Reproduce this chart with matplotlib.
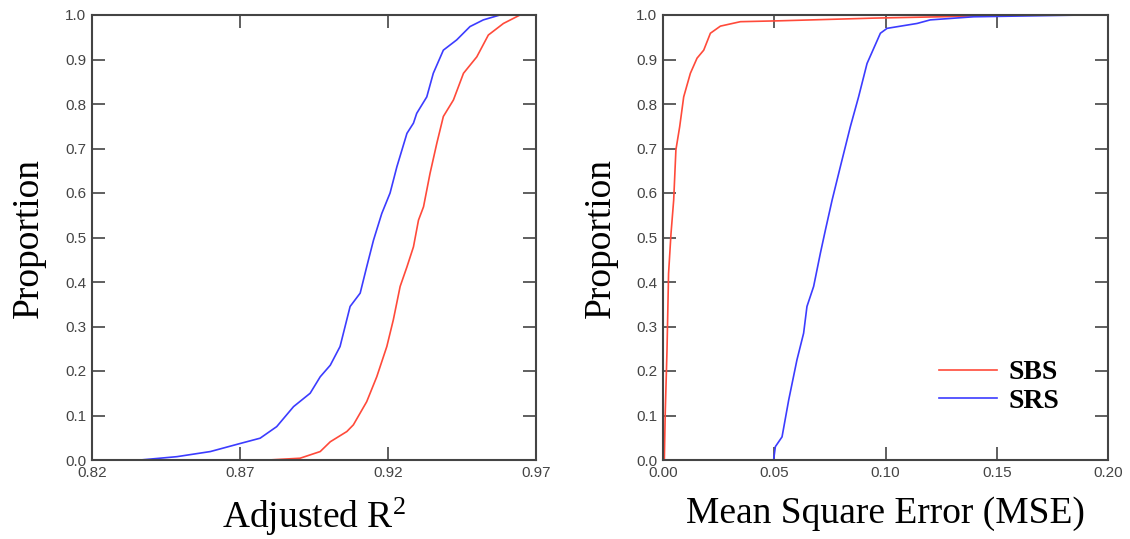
import matplotlib
matplotlib.use("Agg")
import matplotlib.pyplot as plt

plt.rcParams['mathtext.fontset'] = 'custom'
plt.rcParams['mathtext.rm'] = 'Liberation Serif'
plt.rcParams['mathtext.it'] = 'Liberation Serif:italic'
plt.rcParams['mathtext.bf'] = 'Liberation Serif:bold'

# Left panel: Adjusted R^2 cumulative proportions
r2_srs_x = [0.8363, 0.8487, 0.8600, 0.8700, 0.8768, 0.8824, 0.8881, 0.8937, 0.8971, 0.9005,
            0.9038, 0.9072, 0.9106, 0.9128, 0.9151, 0.9179, 0.9207, 0.9230, 0.9264, 0.9286,
            0.9297, 0.9331, 0.9353, 0.9387, 0.9432, 0.9477, 0.9522, 0.9578, 0.9646]
r2_srs_y = [0.000, 0.0075, 0.019, 0.037, 0.049, 0.075, 0.120, 0.150, 0.187, 0.213,
            0.255, 0.345, 0.375, 0.434, 0.494, 0.554, 0.600, 0.659, 0.734, 0.757,
            0.779, 0.816, 0.869, 0.921, 0.944, 0.974, 0.989, 1.000, 1.000]
r2_sbs_x = [0.8796, 0.8903, 0.8971, 0.9005, 0.9061, 0.9083, 0.9128, 0.9162, 0.9196, 0.9218,
            0.9241, 0.9264, 0.9286, 0.9303, 0.9320, 0.9342, 0.9365, 0.9387, 0.9421, 0.9455,
            0.9500, 0.9539, 0.9590, 0.9646]
r2_sbs_y = [0.000, 0.004, 0.019, 0.041, 0.064, 0.079, 0.131, 0.187, 0.255, 0.315,
            0.390, 0.434, 0.479, 0.539, 0.569, 0.644, 0.712, 0.772, 0.809, 0.869,
            0.906, 0.955, 0.981, 1.000]

# Right panel: MSE cumulative proportions
mse_sbs_x = [0.0006, 0.0010, 0.0018, 0.0025, 0.0036, 0.0048, 0.0058, 0.0075, 0.0093, 0.0123,
             0.0153, 0.0183, 0.0213, 0.0258, 0.0348, 0.0527, 0.0947, 0.1246, 0.1546, 0.1830]
mse_sbs_y = [0.000, 0.105, 0.247, 0.419, 0.509, 0.584, 0.697, 0.749, 0.816, 0.869,
             0.903, 0.921, 0.959, 0.975, 0.985, 0.987, 0.993, 0.996, 1.000, 1.000]
mse_srs_x = [0.0497, 0.0505, 0.0535, 0.0565, 0.0602, 0.0632, 0.0647, 0.0677, 0.0707, 0.0730,
             0.0760, 0.0797, 0.0842, 0.0879, 0.0917, 0.0977, 0.1007, 0.1142, 0.1201, 0.1396,
             0.1891]
mse_srs_y = [0.000, 0.030, 0.052, 0.135, 0.225, 0.285, 0.345, 0.390, 0.464, 0.517,
             0.584, 0.659, 0.749, 0.816, 0.891, 0.959, 0.970, 0.981, 0.989, 0.996,
             1.000]

r2_ticks = [0.82, 0.87, 0.92, 0.97]
r2_ticklabels = ['0.82', '0.87', '0.92', '0.97']
mse_ticks = [0.00, 0.05, 0.10, 0.15, 0.20]
mse_ticklabels = ['0.00', '0.05', '0.10', '0.15', '0.20']
y_ticks = [i / 10 for i in range(11)]
y_ticklabels = ['%.1f' % v for v in y_ticks]

RED = '#ff4a3a'
BLUE = '#3c3cff'
GRAY = '#444444'

fig = plt.figure(figsize=(11.3, 5.39), dpi=100)
W, H = 1130, 539
ax1 = fig.add_axes([92 / W, (H - 460) / H, 444 / W, 445 / H])
ax2 = fig.add_axes([663 / W, (H - 460) / H, 445 / W, 445 / H])

serif = 'Liberation Serif'

def style(ax, xticks, xlabels, xlim):
    ax.set_xlim(*xlim)
    ax.set_ylim(0, 1)
    ax.set_xticks(xticks)
    ax.set_xticklabels(xlabels)
    ax.set_yticks(y_ticks)
    ax.set_yticklabels(y_ticklabels)
    ax.tick_params(direction='in', length=9.5, width=1.2, color=GRAY,
                   top=True, right=True, labelsize=11, labelcolor=GRAY, pad=4)
    for lab in ax.get_xticklabels() + ax.get_yticklabels():
        lab.set_fontfamily('Liberation Sans')
    for s in ax.spines.values():
        s.set_linewidth(1.5)
        s.set_color(GRAY)
    ax.set_ylabel('Proportion', fontfamily=serif, fontsize=27, labelpad=14)

ax1.plot(r2_srs_x, r2_srs_y, color=BLUE, lw=1.2)
ax1.plot(r2_sbs_x, r2_sbs_y, color=RED, lw=1.2)
style(ax1, r2_ticks, r2_ticklabels, (0.82, 0.97))
ax1.set_xlabel('Adjusted R$^{2}$', fontfamily=serif, fontsize=27, labelpad=12)

ax2.plot(mse_sbs_x, mse_sbs_y, color=RED, lw=1.2, label='SBS')
ax2.plot(mse_srs_x, mse_srs_y, color=BLUE, lw=1.2, label='SRS')
style(ax2, mse_ticks, mse_ticklabels, (0.0, 0.20))
ax2.yaxis.labelpad = 13
ax2.set_xlabel('Mean Square Error (MSE)', fontfamily=serif, fontsize=27, labelpad=12)

leg = ax2.legend(loc='upper left', bbox_to_anchor=(0.62, 0.225), frameon=False,
                 borderpad=0, borderaxespad=0, handlelength=2.1, handletextpad=0.4,
                 labelspacing=0.12, prop={'family': serif, 'weight': 'bold', 'size': 20})

fig.savefig('out.png', dpi=100)
